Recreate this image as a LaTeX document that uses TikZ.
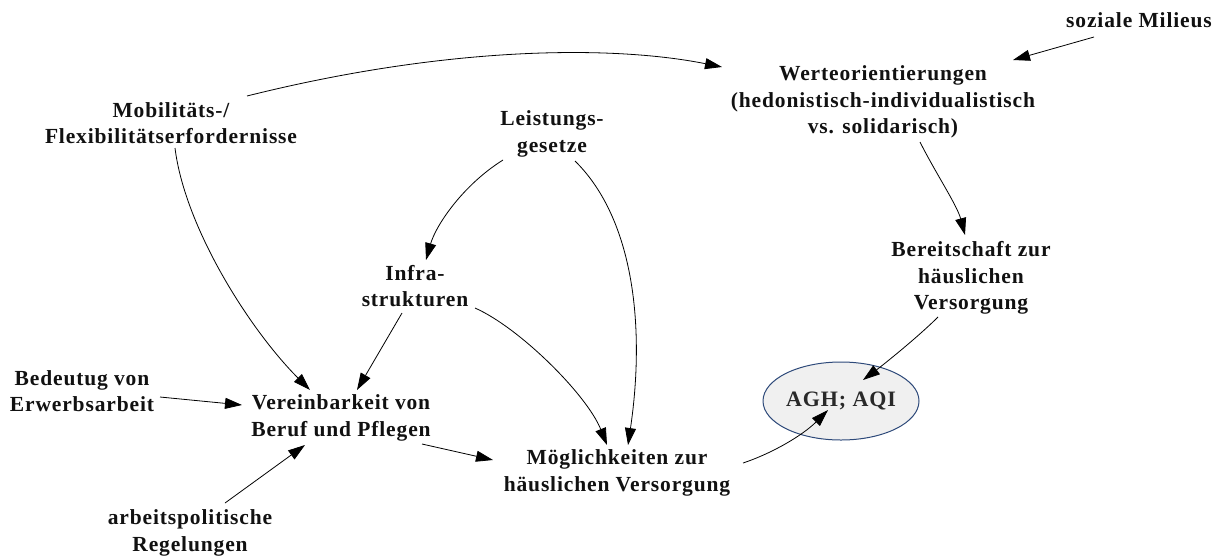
\documentclass[tikz,border=0pt]{standalone}
\usepackage{fontspec}
\newfontfamily\lblfont{Liberation Serif}[LetterSpace=4]
\usetikzlibrary{arrows.meta,shapes.geometric}
\definecolor{ellfill}{HTML}{F0F0F0}
\definecolor{elldraw}{HTML}{2E4A7A}
\definecolor{txt}{HTML}{111111}
\tikzset{
  lbl/.style={align=center, inner sep=0pt, text=txt,
    font=\lblfont\bfseries\fontsize{21.5}{26.5}\selectfont},
  arr/.style={-{Triangle[length=17pt,width=11pt]}, line width=0.8pt, draw=black},
}
\begin{document}
\begin{tikzpicture}[x=1pt,y=-1pt]
\useasboundingbox (0,0) rectangle (1228,558);
% nodes
\node[lbl] (soz) at (1139,20) {soziale Milieus};
\node[lbl] (wert) at (883,102) {Werteorientierungen\\(hedonistisch-individualistisch\\vs. solidarisch)};
\node[lbl] (mob) at (171,123) {Mobilitäts-/\\Flexibilitätserfordernisse};
\node[lbl] (leist) at (552,134) {Leistungs-\\gesetze};
\node[lbl] (infra) at (415,286) {Infra-\\strukturen};
\node[lbl] (bereit) at (971,278) {Bereitschaft zur\\häuslichen\\Versorgung};
\node[ellipse, draw=elldraw, fill=ellfill, line width=1pt, minimum width=156pt, minimum height=78pt,
      inner sep=0pt, text=txt!90!white, font=\lblfont\bfseries\fontsize{22}{26}\selectfont] (agh) at (841,401) {AGH; AQI};
\node[lbl] (bedeut) at (82,391) {Bedeutug von\\Erwerbsarbeit};
\node[lbl] (verein) at (341,418) {Vereinbarkeit von\\Beruf und Pflegen};
\node[lbl] (arbeit) at (190,533) {arbeitspolitische\\Regelungen};
\node[lbl] (moeg) at (617,473) {Möglichkeiten zur\\häuslichen Versorgung};
% connectors
\draw[arr] ([shift={(76,-27)}]mob.center) .. controls +(200,-50) and +(-110,-22) .. ([shift={(-161,-35)}]wert.center);
\draw[arr] ([shift={(-45,17)}]soz.center) -- ([shift={(130,-42)}]wert.center);
\draw[arr] ([shift={(37,40)}]wert.center) .. controls +(15,30) and +(-8,-30) .. ([shift={(-6,-43)}]bereit.center);
\draw[arr] ([shift={(-33,39)}]bereit.center) .. controls +(-20,20) and +(20,-15) .. ([shift={(22,-21)}]agh.center);
\draw[arr] ([shift={(126,-10)}]moeg.center) .. controls +(30,-10) and +(-25,25) .. ([shift={(-13,9)}]agh.center);
\draw[arr] ([shift={(-49,26)}]leist.center) .. controls +(-40,25) and +(10,-35) .. ([shift={(11,-26)}]infra.center);
\draw[arr] ([shift={(23,27)}]leist.center) .. controls +(60,59) and +(17,-115) .. ([shift={(11,-28)}]moeg.center);
\draw[arr] ([shift={(60,22)}]infra.center) .. controls +(45,20) and +(-20,-50) .. ([shift={(-10,-28)}]moeg.center);
\draw[arr] ([shift={(-13,27)}]infra.center) -- ([shift={(16,-28)}]verein.center);
\draw[arr] ([shift={(4,25)}]mob.center) .. controls +(10,80) and +(-60,-60) .. ([shift={(-31,-28)}]verein.center);
\draw[arr] ([shift={(78,6)}]bedeut.center) -- ([shift={(-99,-13)}]verein.center);
\draw[arr] ([shift={(35,-30)}]arbeit.center) -- ([shift={(-36,27)}]verein.center);
\draw[arr] ([shift={(81,26)}]verein.center) -- ([shift={(-124,-13)}]moeg.center);
\end{tikzpicture}
\end{document}
